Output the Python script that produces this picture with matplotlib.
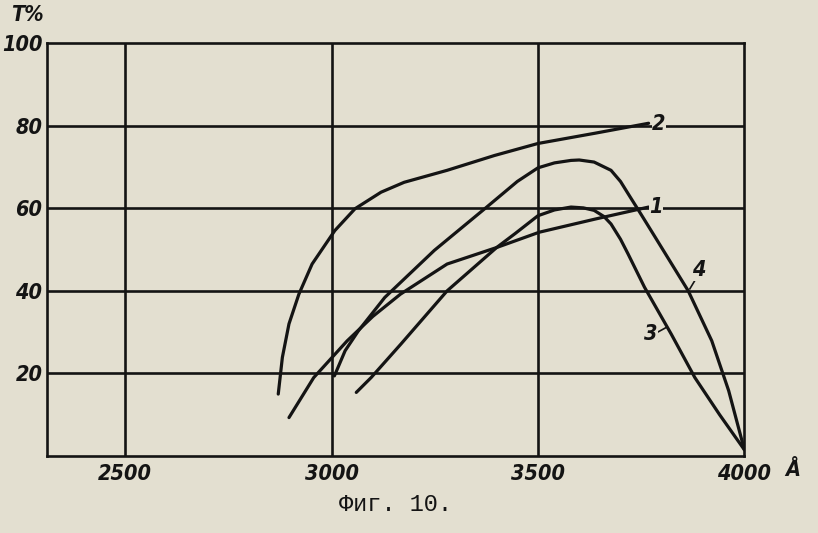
import matplotlib
matplotlib.use("Agg")
import matplotlib.pyplot as plt
from matplotlib import font_manager

# curve data: wavelength (Angstrom) vs transmission T%
c1_x = [2897, 2957, 3038, 3100, 3167, 3280, 3400, 3503, 3639, 3768]
c1_y = [9.3, 19.0, 27.9, 33.8, 39.2, 46.5, 50.5, 54.2, 57.4, 60.3]

c2_x = [2871, 2881, 2897, 2921, 2953, 3008, 3057, 3120, 3176, 3280, 3395, 3500, 3639, 3768]
c2_y = [15.0, 23.9, 32.0, 39.2, 46.5, 54.6, 59.9, 63.9, 66.3, 69.2, 72.8, 75.7, 78.2, 80.6]

c3_x = [3060, 3096, 3168, 3280, 3400, 3445, 3500, 3540, 3580, 3610, 3636, 3660, 3677,
        3700, 3718, 3758, 3823, 3880, 3940, 4000]
c3_y = [15.4, 19.0, 27.1, 40.0, 50.5, 53.9, 58.2, 59.6, 60.3, 60.1, 59.5, 58.0, 56.2,
        52.5, 49.0, 40.9, 29.5, 19.0, 10.0, 1.5]

c4_x = [3007, 3033, 3065, 3129, 3249, 3376, 3450, 3500, 3540, 3580, 3600, 3636, 3677,
        3700, 3718, 3750, 3784, 3864, 3921, 3962, 4000]
c4_y = [19.4, 25.5, 30.3, 38.4, 49.8, 60.3, 66.5, 69.8, 71.0, 71.6, 71.7, 71.2, 69.2,
        66.5, 63.6, 58.5, 53.0, 40.0, 27.9, 15.8, 1.5]

curve_names = ["1", "2", "3", "4"]
label_x = [3786, 3793, 3773, 3890]
label_y = [60.2, 80.3, 29.6, 45.0]

x_ticks = [2500, 3000, 3500, 4000]
y_ticks = [20, 40, 60, 80, 100]

paper = "#e3dfd0"
ink = "#141414"

# narrow bold italic digits as in the print; fall back to smaller size
probe = font_manager.FontProperties(family="DejaVu Sans", weight="bold",
                                    style="italic", stretch="condensed")
if "Condensed" in font_manager.findfont(probe):
    fs = 15.5
else:
    fs = 13.5
tfont = dict(family="DejaVu Sans", fontweight="bold", fontstyle="italic",
             fontstretch="condensed", fontsize=fs, color=ink)

fig = plt.figure(figsize=(8.18, 5.33), dpi=100, facecolor=paper)
ax = fig.add_axes([0.057, 0.1445, 0.853, 0.7745])
ax.set_facecolor(paper)

for xs, ys in [(c1_x, c1_y), (c2_x, c2_y), (c3_x, c3_y), (c4_x, c4_y)]:
    ax.plot(xs, ys, color=ink, lw=2.3, solid_capstyle="round",
            solid_joinstyle="round", zorder=3)

# grid
for v in [2500, 3000, 3500]:
    ax.axvline(v, color=ink, lw=1.9, zorder=2)
for h in [20, 40, 60, 80]:
    ax.axhline(h, color=ink, lw=1.9, zorder=2)

ax.set_xlim(2310, 4000)
ax.set_ylim(0, 100)
for s in ax.spines.values():
    s.set_color(ink)
    s.set_linewidth(1.9)

ax.set_xticks(x_ticks)
ax.set_yticks(y_ticks)
ax.tick_params(length=0, colors=ink)
ax.tick_params(axis="x", pad=6)
ax.tick_params(axis="y", pad=3)
for lab in ax.get_xticklabels() + ax.get_yticklabels():
    lab.set_fontfamily(tfont["family"])
    lab.set_fontweight("bold")
    lab.set_fontstyle("italic")
    lab.set_fontstretch("condensed")
    lab.set_fontsize(fs)

# curve numbers
for name, lx, ly in zip(curve_names, label_x, label_y):
    ax.text(lx, ly, name, ha="center", va="center", zorder=4,
            bbox=dict(facecolor=paper, edgecolor="none", pad=0.5), **tfont)

# small leader ticks for 3 and 4
ax.plot([3868, 3880], [40.5, 42.5], color=ink, lw=1.2, zorder=3)
ax.plot([3790, 3812], [30.0, 31.2], color=ink, lw=1.2, zorder=3)

fig.text(0.034, 0.972, "T%", ha="center", va="center", **tfont)
fig.text(0.969, 0.118, "Å", ha="center", va="center", **tfont)
fig.text(0.483, 0.054, "Фиг. 10.", family=["Liberation Mono", "DejaVu Sans Mono"],
         fontsize=17, color=ink, ha="center", va="center")

fig.savefig("out.png", dpi=100, facecolor=paper)
